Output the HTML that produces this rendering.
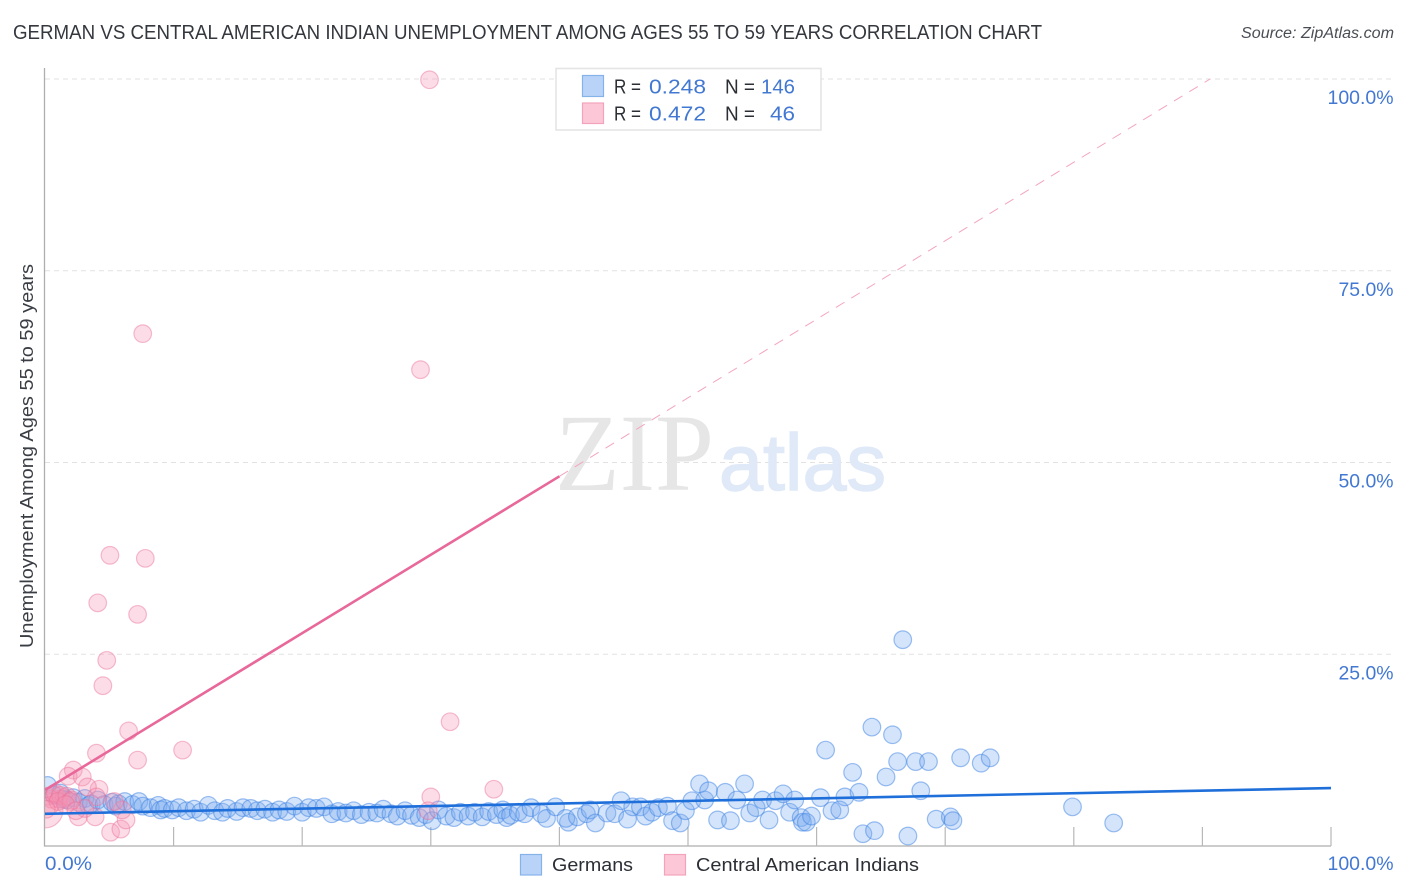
<!DOCTYPE html>
<html>
<head>
<meta charset="utf-8">
<title>German vs Central American Indian Unemployment Correlation Chart</title>
<style>
html,body{margin:0;padding:0;background:#fff;}
svg{display:block;font-family:"Liberation Sans",sans-serif;}
</style>
</head>
<body>
<svg id="chart" width="1406" height="892" viewBox="0 0 1406 892" xmlns="http://www.w3.org/2000/svg">
  <defs>
    <clipPath id="plot-clip"><rect x="45" y="60" width="1300" height="786"/></clipPath>
  </defs>
  <rect width="1406" height="892" fill="#fff"/>
  <text x="13" y="39" font-size="20" fill="#34383e" textLength="1029" lengthAdjust="spacingAndGlyphs">GERMAN VS CENTRAL AMERICAN INDIAN UNEMPLOYMENT AMONG AGES 55 TO 59 YEARS CORRELATION CHART</text>
  <text x="1241" y="38" font-size="15.5" font-style="italic" fill="#4a4e54" textLength="153" lengthAdjust="spacingAndGlyphs">Source: ZipAtlas.com</text>
  <g id="grid"></g>
  <g>
    <text x="555" y="490" font-size="110" font-family="'Liberation Serif',serif" fill="#e6e6e6" textLength="159" lengthAdjust="spacingAndGlyphs">ZIP</text>
    <text x="719" y="490" font-size="80" font-family="'Liberation Sans',sans-serif" fill="#e0e9f8" stroke="#e0e9f8" stroke-width="1.4" textLength="167" lengthAdjust="spacingAndGlyphs">atlas</text>
  </g>
  <g id="axes">
    <line x1="44.5" y1="68" x2="44.5" y2="846.5" stroke="#aeaeae" stroke-width="1.3"/>
    <line x1="44" y1="846" x2="1331" y2="846" stroke="#aeaeae" stroke-width="1.3"/>
  </g>
  <g id="points" clip-path="url(#plot-clip)"></g>
  <g id="trends" clip-path="url(#plot-clip)"></g>
  <g id="labels"></g>
  <text transform="translate(33,648) rotate(-90)" font-size="18.5" fill="#3a3e44" textLength="384" lengthAdjust="spacingAndGlyphs">Unemployment Among Ages 55 to 59 years</text>

  <g font-size="20">
    <rect x="556" y="68.5" width="265" height="61.5" fill="#fff" stroke="#e4e4e4" stroke-width="1.6"/>
    <rect x="582.5" y="75.5" width="21" height="21" fill="#b9d3f8" stroke="#86b2ea" stroke-width="1.2"/>
    <text x="614" y="93.5" fill="#2b2f35" textLength="27" lengthAdjust="spacingAndGlyphs">R =</text>
    <text x="649" y="93.5" fill="#4278d2" textLength="57" lengthAdjust="spacingAndGlyphs">0.248</text>
    <text x="725" y="93.5" fill="#2b2f35" textLength="30" lengthAdjust="spacingAndGlyphs">N =</text>
    <text x="761" y="93.5" fill="#4278d2" textLength="34" lengthAdjust="spacingAndGlyphs">146</text>
    <rect x="582.5" y="103" width="21" height="20.5" fill="#fcc8d8" stroke="#f3a3bc" stroke-width="1.2"/>
    <text x="614" y="120.5" fill="#2b2f35" textLength="27" lengthAdjust="spacingAndGlyphs">R =</text>
    <text x="649" y="120.5" fill="#4278d2" textLength="57" lengthAdjust="spacingAndGlyphs">0.472</text>
    <text x="725" y="120.5" fill="#2b2f35" textLength="30" lengthAdjust="spacingAndGlyphs">N =</text>
    <text x="770" y="120.5" fill="#4278d2" textLength="25" lengthAdjust="spacingAndGlyphs">46</text>
  </g>

  <g font-size="18.5" fill="#2b2f35">
    <rect x="520.5" y="854.5" width="21" height="20.5" fill="#b9d3f8" stroke="#86b2ea" stroke-width="1.2"/>
    <text x="552" y="871" textLength="81" lengthAdjust="spacingAndGlyphs">Germans</text>
    <rect x="664.5" y="854.5" width="21" height="20.5" fill="#fcc8d8" stroke="#f3a3bc" stroke-width="1.2"/>
    <text x="696" y="871" textLength="223" lengthAdjust="spacingAndGlyphs">Central American Indians</text>
  </g>
</svg>
<script>
var germanX = [0.2,0.7,1.2,1.4,1.7,2.2,2.6,3.1,3.4,3.6,4.1,4.6,5.2,5.5,5.7,6.2,6.8,7.3,7.6,8.2,8.8,9.0,9.3,9.9,10.4,11.0,11.6,12.1,12.7,13.2,13.8,14.2,14.9,15.4,16.0,16.5,17.1,17.7,18.2,18.8,19.4,20.0,20.5,21.1,21.7,22.3,22.8,23.4,24.0,24.6,25.2,25.8,26.3,26.9,27.4,28.0,28.5,29.1,29.6,30.1,30.6,31.2,31.8,32.3,32.9,33.4,34.0,34.5,35.1,35.6,35.9,36.2,36.8,37.3,37.8,38.6,39.0,39.7,40.7,40.5,41.4,42.1,42.4,42.8,43.7,44.3,44.8,45.3,45.7,46.3,46.7,47.2,47.7,48.4,48.8,49.4,49.8,50.3,50.9,51.3,51.6,52.3,52.9,53.3,53.8,54.4,54.8,55.3,55.8,56.3,56.8,57.4,57.9,58.3,58.8,58.9,59.2,59.6,60.3,60.7,61.2,61.8,62.2,62.8,63.3,63.6,64.3,64.5,65.4,65.9,66.3,66.7,67.1,67.7,68.1,68.7,69.3,70.4,70.6,71.2,72.8,73.5,79.9,83.1];
var germanY = [7.9,6.6,6.9,6.1,6.0,6.3,5.7,6.2,5.3,5.5,6.0,5.4,5.7,5.2,5.5,5.8,5.4,5.8,5.2,5.0,5.3,4.7,4.9,4.7,5.0,4.6,4.8,4.4,5.3,4.6,4.4,4.9,4.5,5.0,4.9,4.6,4.8,4.4,4.7,4.5,5.2,4.4,5.0,4.9,5.1,4.2,4.5,4.3,4.6,4.1,4.4,4.3,4.8,4.2,3.9,4.6,4.0,3.7,4.1,3.3,4.7,3.9,3.7,4.4,3.9,4.4,3.8,4.5,4.1,4.7,3.7,4.0,4.4,4.2,5.0,4.2,3.6,5.1,3.1,3.6,3.8,4.2,4.7,3.0,4.3,4.2,5.9,3.5,5.1,5.1,3.9,4.4,5.0,5.2,3.3,3.0,4.6,5.9,8.1,6.0,7.2,3.4,7.0,3.3,6.0,8.1,4.3,5.0,6.0,3.4,5.9,6.8,4.4,6.0,3.7,3.1,3.1,3.9,6.3,12.5,4.6,4.7,6.4,9.6,7.0,1.6,15.5,2.0,9.0,14.5,11.0,26.9,1.3,11.0,7.2,11.0,3.5,3.8,3.3,11.5,10.8,11.5,5.1,3.0];
var indianX = [29.9,7.6,29.2,5.05,7.8,4.1,7.2,4.8,4.5,31.5,6.5,10.7,4.0,7.2,2.2,1.8,2.9,34.9,4.2,30.0,3.3,4.0,29.8,5.1,5.9,6.3,6.0,3.9,2.6,0.2,0.5,0.7,1.1,1.5,0.4,0.8,1.2,1.0,1.7,2.1,3.1,5.4,2.0,0.1,1.6,2.4];
var indianY = [99.9,66.8,62.1,37.9,37.5,31.7,30.2,24.2,20.9,16.2,15.0,12.5,12.1,11.2,9.9,9.1,9.0,7.4,7.4,6.4,7.7,6.4,4.6,1.8,2.2,3.4,4.7,3.8,3.8,6.5,6.1,6.7,6.1,6.3,5.3,6.9,6.6,5.8,6.5,6.0,4.9,5.8,5.8,4.8,5.4,4.6];
var indianLargeX = [0.0];
var indianLargeY = [4.7];
var germanTrendX = [0, 100];
var germanTrendY = [4.2, 7.55];
var indianSolidX = [0, 40];
var indianSolidY = [7.3, 48.2];
var indianDashX = [40, 90.6];
var indianDashY = [48.2, 100];
var yTicks = [25, 50, 75, 100];
var yTickLabels = ["25.0%", "50.0%", "75.0%", "100.0%"];
var xTicks = [10, 20, 30, 40, 50, 60, 70, 80, 90, 100];
var xEndLabels = ["0.0%", "100.0%"];

var NS = "http://www.w3.org/2000/svg";
function sx(p) { return 45 + p * 12.86; }
function sy(v) { return 846 - v * 7.67; }
function make(parent, tag, attrs) {
  var el = document.createElementNS(NS, tag);
  for (var k in attrs) { el.setAttribute(k, attrs[k]); }
  parent.appendChild(el);
  return el;
}
var grid = document.getElementById("grid");
var axes = document.getElementById("axes");
var points = document.getElementById("points");
var trends = document.getElementById("trends");
var labels = document.getElementById("labels");
var LABEL_COLOR = "#4278d2";

yTicks.forEach(function (v, i) {
  var g = make(grid, "line", {x1: 45, x2: 1393, y1: sy(v), y2: sy(v), stroke: "#e2e2e2", "stroke-width": 1, "stroke-dasharray": "5 4"});
  
  
  var w = yTickLabels[i].length > 5 ? 66 : 55;
  var t = make(labels, "text", {x: 1393.5 - w, y: sy(v) + 25, "font-size": 19.5, fill: LABEL_COLOR, textLength: w, lengthAdjust: "spacingAndGlyphs"});
  
  
  t.textContent = yTickLabels[i];
});
xTicks.forEach(function (p) {
  var l = make(axes, "line", {x1: sx(p), x2: sx(p), y1: 827, y2: 846, stroke: "#b8b8b8", "stroke-width": 1.2});
  
  
});
var x0 = make(labels, "text", {x: 45, y: 870, "font-size": 19.5, fill: LABEL_COLOR, textLength: 47, lengthAdjust: "spacingAndGlyphs"});


x0.textContent = xEndLabels[0];
var x1 = make(labels, "text", {x: 1327.5, y: 870, "font-size": 19.5, fill: LABEL_COLOR, textLength: 66, lengthAdjust: "spacingAndGlyphs"});


x1.textContent = xEndLabels[1];

germanX.forEach(function (p, i) {
  var c = make(points, "circle", {cx: sx(p), cy: sy(germanY[i]), r: 8.8, fill: "rgba(120,170,240,0.32)", stroke: "rgba(60,130,228,0.5)", "stroke-width": 1.2});
  
  
});
indianLargeX.forEach(function (p, i) {
  var c = make(points, "circle", {cx: sx(p), cy: sy(indianLargeY[i]), r: 18, fill: "rgba(245,150,180,0.32)", stroke: "rgba(235,110,150,0.45)", "stroke-width": 1.2});
  
  
});
indianX.forEach(function (p, i) {
  var c = make(points, "circle", {cx: sx(p), cy: sy(indianY[i]), r: 8.8, fill: "rgba(245,150,180,0.32)", stroke: "rgba(235,110,150,0.45)", "stroke-width": 1.2});
  
  
});

var dashLine = make(trends, "line", {x1: sx(indianDashX[0]), y1: sy(indianDashY[0]), x2: sx(indianDashX[1]), y2: sy(indianDashY[1]), stroke: "#f3a5bf", "stroke-width": 1, "stroke-dasharray": "10 8"});


var solidLine = make(trends, "line", {x1: sx(indianSolidX[0]), y1: sy(indianSolidY[0]), x2: sx(indianSolidX[1]), y2: sy(indianSolidY[1]), stroke: "#e8689a", "stroke-width": 2.6});


var blueLine = make(trends, "line", {x1: sx(germanTrendX[0]), y1: sy(germanTrendY[0]), x2: sx(germanTrendX[1]), y2: sy(germanTrendY[1]), stroke: "#1f6fdb", "stroke-width": 2.6});


</script>
</body>
</html>
